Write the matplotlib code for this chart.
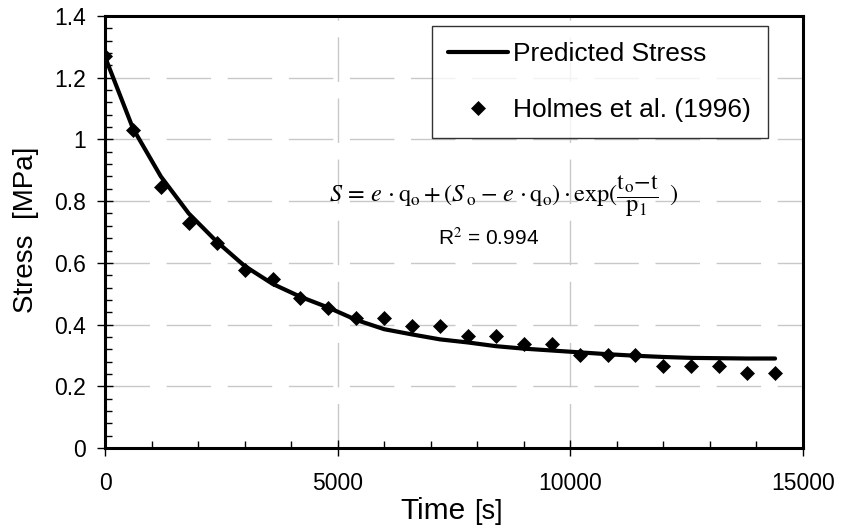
import matplotlib
matplotlib.use("Agg")
import matplotlib.pyplot as plt
from matplotlib.ticker import MultipleLocator

# time [s] of each sample
time_s = [0, 600, 1200, 1800, 2400, 3000, 3600, 4200, 4800, 5400, 6000, 6600, 7200,
          7800, 8400, 9000, 9600, 10200, 10800, 11400, 12000, 12600, 13200, 13800, 14400]

# predicted stress curve [MPa]
predicted = [1.268, 1.036, 0.880, 0.760, 0.669, 0.590, 0.532, 0.490, 0.455, 0.415,
             0.385, 0.368, 0.352, 0.342, 0.330, 0.322, 0.316, 0.310, 0.304, 0.299,
             0.295, 0.292, 0.291, 0.290, 0.290]

# Holmes et al. (1996) measurements [MPa]
holmes = [1.27, 1.03, 0.847, 0.729, 0.664, 0.577, 0.547, 0.485, 0.454, 0.42,
          0.42, 0.395, 0.395, 0.363, 0.363, 0.336, 0.336, 0.301, 0.301, 0.301,
          0.267, 0.267, 0.267, 0.242, 0.242]

x_ticks = [0, 5000, 10000, 15000]
y_ticks = [0, 0.2, 0.4, 0.6, 0.8, 1.0, 1.2, 1.4]
y_labels = ["0", "0.2", "0.4", "0.6", "0.8", "1", "1.2", "1.4"]

plt.rcParams['font.family'] = ['Liberation Sans', 'DejaVu Sans']
plt.rcParams['mathtext.fontset'] = 'stix'

fig = plt.figure(figsize=(8.41, 5.31), dpi=100)
ax = fig.add_axes([105 / 841, 1 - 448 / 531, 698 / 841, 432 / 531])

ax.plot(time_s, predicted, color='black', lw=3.0, label='Predicted Stress',
        solid_capstyle='round', zorder=3)
ax.plot(time_s, holmes, ls='none', marker='D', ms=6.8, mfc='black', mec='black',
        mew=0.5, label='Holmes et al. (1996)', zorder=4)

ax.set_xlim(0, 15000)
ax.set_ylim(0, 1.4)
ax.set_xticks(x_ticks)
ax.set_xticklabels([str(v) for v in x_ticks])
ax.set_yticks(y_ticks)
ax.set_yticklabels(y_labels)
ax.xaxis.set_minor_locator(MultipleLocator(1000))
ax.yaxis.set_minor_locator(MultipleLocator(0.04))

ax.tick_params(which='major', direction='inout', length=11, width=1.0,
               labelsize=16.5, color='black')
ax.tick_params(axis='x', which='major', pad=12)
ax.tick_params(axis='y', which='major', pad=8)
ax.tick_params(which='minor', direction='in', length=5, width=1.0)

for sp in ax.spines.values():
    sp.set_linewidth(2.2)
    sp.set_color('black')

# dashed light grid
for yv in y_ticks[1:-1]:
    ax.axhline(yv, color='#c8c8c8', lw=1.0, ls=(0, (32, 12)), zorder=1)
for xv in x_ticks[1:-1]:
    ax.axvline(xv, color='#c8c8c8', lw=1.0, ls=(0, (32, 12)), zorder=1)

fig.text(33 / 841, 1 - 313 / 531, 'Stress  [MPa]', rotation=90, rotation_mode='anchor',
         ha='left', va='baseline', fontsize=20)
fig.text(466 / 841, 1 - 519 / 531, 'Time', ha='right', va='baseline', fontsize=21.5)
fig.text(474 / 841, 1 - 519 / 531, '[s]', ha='left', va='baseline', fontsize=19.5)

leg = ax.legend(loc='upper left', bbox_to_anchor=((432 - 105) / 698, (448 - 26) / 432),
                borderaxespad=0, fontsize=19, frameon=True, fancybox=False,
                handlelength=2.27, handletextpad=0.19, labelspacing=1.2, borderpad=0.62)
leg.get_frame().set_edgecolor('black')
leg.get_frame().set_linewidth(1.0)

fig.text(504 / 841, 1 - 202 / 531,
         r'$S\,=\,e\,\cdot\mathrm{q_o}+(S_{\,\mathrm{o}}\;\mathrm{-}\;e\,\cdot\mathrm{q_o})'
         r'\cdot\mathrm{exp}(\dfrac{\mathrm{t_o{-}t}}{\mathrm{p_1}}\;\;)$',
         fontsize=17.5, ha='center', va='baseline')
fig.text(489 / 841, 1 - 245 / 531, r'R$^2$ = 0.994', fontsize=15, ha='center', va='baseline')

fig.savefig('out.png', dpi=100)
